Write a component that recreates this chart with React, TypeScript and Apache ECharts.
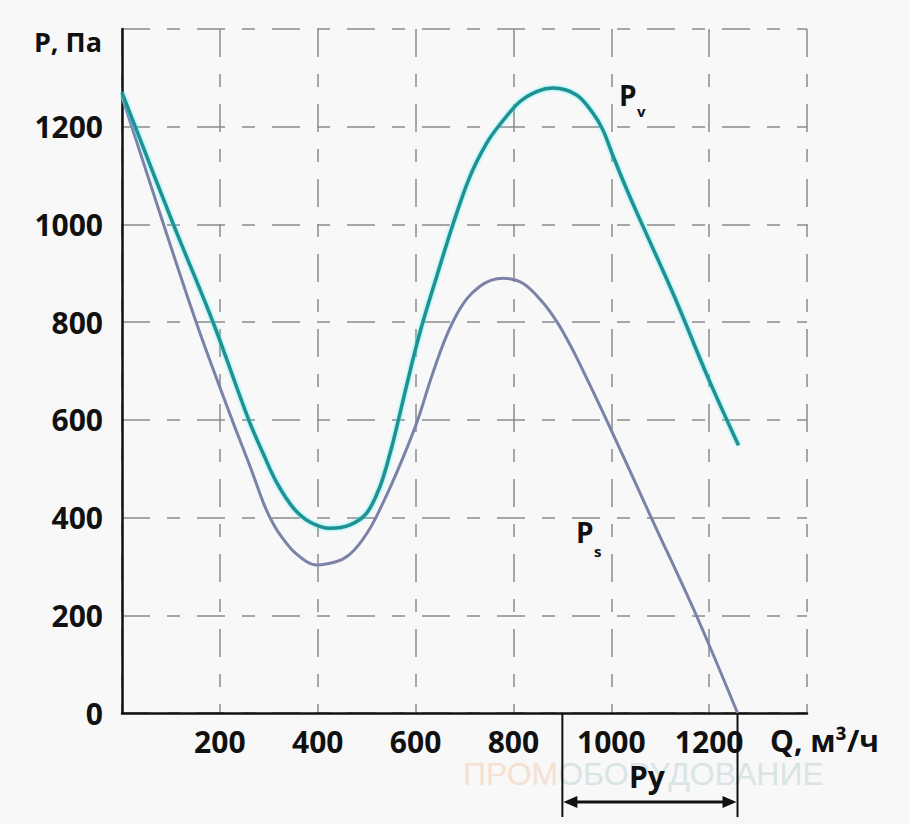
import React, { useEffect, useRef } from "react";
import * as echarts from "echarts";

// Flow rate Q (m3/h) and pressure P (Pa)
const pvQ = [0, 27, 105, 186, 259, 289, 316, 350, 384, 425, 466, 500, 527, 548, 565, 590, 612, 643, 677, 711, 745, 772, 813, 850, 881, 929, 963, 983, 1004, 1031, 1055, 1130, 1197, 1260];
const pvP = [1270, 1200, 1000, 800, 600, 530, 472, 420, 391, 378, 385, 409, 463, 532, 600, 705, 790, 893, 1002, 1098, 1166, 1204, 1251, 1273, 1279, 1265, 1227, 1193, 1139, 1073, 1018, 850, 688, 548];

const psQ = [0, 85, 155, 225, 262, 289, 305, 323, 357, 398, 439, 462, 482, 502, 520, 561, 602, 630, 656, 680, 705, 731, 755, 779, 820, 861, 888, 908, 930, 993, 1083, 1175, 1258];
const psP = [1262, 1000, 790, 600, 504, 430, 395, 365, 325, 303, 310, 322, 342, 370, 402, 491, 593, 680, 754, 808, 848, 873, 886, 890, 879, 839, 802, 768, 726, 594, 397, 197, 0];

const xTicks = [200, 400, 600, 800, 1000, 1200];
const yTicks = [0, 200, 400, 600, 800, 1000, 1200];

// Working range "Ру"
const ruRange = [900, 1258];

const FONT = '"Open Sans", "DejaVu Sans", sans-serif';

export default function App() {
  const ref = useRef<HTMLDivElement>(null);

  useEffect(() => {
    const chart = echarts.init(ref.current as HTMLDivElement, null, { renderer: "svg" });
    const gridLine = {
      show: true,
      lineStyle: { color: "#8a8a8a", width: 1.5, type: [28, 17, 13, 17] },
    };
    const labelStyle = {
      fontFamily: FONT,
      fontWeight: "bold",
      fontSize: 30,
      color: "#111",
    };
    const pv = pvQ.map((q, i) => [q, pvP[i]]);
    const ps = psQ.map((q, i) => [q, psP[i]]);
    const wmFont = '"Liberation Sans", "DejaVu Sans", sans-serif';

    chart.setOption({
      animation: false,
      backgroundColor: "#f8f8f8",
      grid: { left: 122, top: 29, right: 103, bottom: 111, containLabel: false },
      xAxis: {
        type: "value",
        min: 0,
        max: 1400,
        interval: 200,
        axisLine: { show: true, onZero: false, lineStyle: { color: "#111", width: 2.5 } },
        axisTick: { show: false },
        splitLine: gridLine,
        axisLabel: {
          ...labelStyle,
          margin: 13,
          formatter: (v: number) => (xTicks.includes(v) ? String(v) : ""),
        },
      },
      yAxis: {
        type: "value",
        min: 0,
        max: 1400,
        interval: 200,
        axisLine: { show: true, onZero: false, lineStyle: { color: "#111", width: 2.5 } },
        axisTick: { show: false },
        splitLine: gridLine,
        axisLabel: {
          ...labelStyle,
          margin: 19,
          formatter: (v: number) => (yTicks.includes(v) ? String(v) : ""),
        },
      },
      graphic: [
        {
          type: "text",
          z: 0,
          x: 463,
          y: 774,
          silent: true,
          style: {
            text: "{a|ПРОМ}{b|ОБОРУДОВАНИЕ}",
            verticalAlign: "middle",
            rich: {
              a: { fontFamily: wmFont, fontSize: 32, fill: "#f5e0d2", color: "#f5e0d2" },
              b: { fontFamily: wmFont, fontSize: 32, fill: "#d9e4e4", color: "#d9e4e4" },
            },
          },
        },
        {
          type: "text",
          x: 102,
          y: 41,
          style: { text: "P, Па", font: `bold 27px ${FONT}`, fill: "#111", align: "right", verticalAlign: "middle" },
        },
        {
          type: "text",
          x: 770,
          y: 740,
          style: { text: "Q, м³/ч", font: `bold 30px ${FONT}`, fill: "#111", align: "left", verticalAlign: "middle" },
        },
        {
          type: "text",
          x: 619,
          y: 95,
          style: { text: "P", font: `bold 28px ${FONT}`, fill: "#111", align: "left", verticalAlign: "middle" },
        },
        {
          type: "text",
          x: 637,
          y: 111,
          style: { text: "v", font: `bold 15px ${FONT}`, fill: "#111", align: "left", verticalAlign: "middle" },
        },
        {
          type: "text",
          x: 576,
          y: 532,
          style: { text: "P", font: `bold 28px ${FONT}`, fill: "#111", align: "left", verticalAlign: "middle" },
        },
        {
          type: "text",
          x: 594,
          y: 551,
          style: { text: "s", font: `bold 15px ${FONT}`, fill: "#111", align: "left", verticalAlign: "middle" },
        },
      ],
      series: [
        {
          name: "Pv",
          type: "line",
          data: pv,
          smooth: 0.35,
          showSymbol: false,
          symbol: "none",
          z: 4,
          lineStyle: {
            color: "#21908e",
            width: 3.5,
            shadowColor: "rgba(60,235,255,0.9)",
            shadowBlur: 3,
          },
        },
        {
          name: "Ps",
          type: "line",
          data: ps,
          smooth: 0.35,
          showSymbol: false,
          symbol: "none",
          z: 3,
          lineStyle: { color: "#7b82a8", width: 3 },
        },
        {
          name: "Ру",
          type: "custom",
          silent: true,
          z: 5,
          data: [ruRange],
          renderItem: (_params: any, api: any) => {
            const a = api.coord([api.value(0), 0]);
            const b = api.coord([api.value(1), 0]);
            const drop = 104;
            const arrowY = a[1] + 89;
            const head = 15;
            const half = 6;
            return {
              type: "group",
              children: [
                { type: "line", shape: { x1: a[0], y1: a[1], x2: a[0], y2: a[1] + drop }, style: { stroke: "#111", lineWidth: 2 } },
                { type: "line", shape: { x1: b[0], y1: b[1], x2: b[0], y2: b[1] + drop }, style: { stroke: "#111", lineWidth: 2 } },
                { type: "line", shape: { x1: a[0] + head - 2, y1: arrowY, x2: b[0] - head + 2, y2: arrowY }, style: { stroke: "#111", lineWidth: 3 } },
                { type: "polygon", shape: { points: [[a[0] + 1, arrowY], [a[0] + head, arrowY - half], [a[0] + head, arrowY + half]] }, style: { fill: "#111" } },
                { type: "polygon", shape: { points: [[b[0] - 1, arrowY], [b[0] - head, arrowY - half], [b[0] - head, arrowY + half]] }, style: { fill: "#111" } },
                {
                  type: "text",
                  style: {
                    text: "Ру",
                    x: (a[0] + b[0]) / 2 - 3,
                    y: arrowY - 26,
                    align: "center",
                    verticalAlign: "middle",
                    font: `bold 30px ${FONT}`,
                    fill: "#111",
                  },
                },
              ],
            };
          },
        },
      ],
    });
    return () => chart.dispose();
  }, []);

  return (
    <div
      ref={ref}
      style={{ position: "fixed", left: 0, top: 0, width: 910, height: 824 }}
    />
  );
}
